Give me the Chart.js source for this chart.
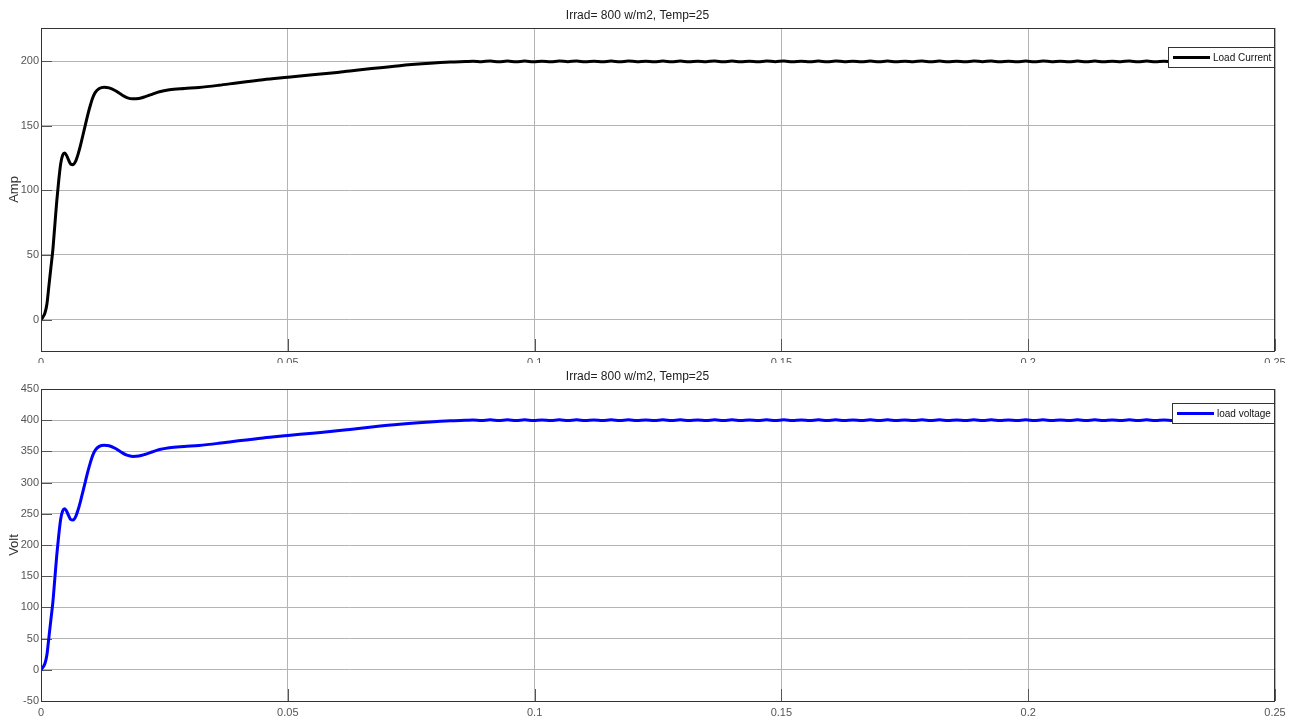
<!DOCTYPE html>
<html>
<head>
<meta charset="utf-8">
<title>Load current and load voltage</title>
<script src="https://cdn.jsdelivr.net/npm/chart.js@4/dist/chart.umd.min.js"></script>
<style>
  html, body { margin: 0; padding: 0; background: #fff; }
  #wrap { position: relative; width: 1294px; height: 720px; overflow: hidden; background: #fff; }
  #cCur { position: absolute; left: 0; top: 0; }
  #cVolt { position: absolute; left: 0; top: 363px; background: #fff; }
</style>
</head>
<body>
<div id="wrap">
  <canvas id="cCur" width="1294" height="372"></canvas>
  <canvas id="cVolt" width="1294" height="357"></canvas>
</div>
<script>
// ---- simulation output (time in s) ----
const plotTitle = 'Irrad= 800 w/m2, Temp=25';

// start-up transient
const transientTime = [0, 0.0004, 0.0008, 0.0012, 0.0016, 0.002, 0.0024, 0.0028, 0.0032, 0.0036,
  0.004, 0.0044, 0.0048, 0.0052, 0.0056, 0.006, 0.0065, 0.007, 0.0075, 0.008,
  0.0085, 0.009, 0.0095, 0.01, 0.0105, 0.011, 0.0118, 0.0128, 0.0138, 0.015,
  0.0162, 0.0174, 0.0186, 0.0198, 0.021, 0.0225, 0.024, 0.026, 0.029, 0.032,
  0.036, 0.04, 0.045, 0.05, 0.055, 0.06, 0.0626, 0.067, 0.0727, 0.078,
  0.0829, 0.086];

const currentTransient = [0, 2, 5, 12, 26, 40, 54, 73, 92, 108,
  121, 127.5, 129, 127, 123.5, 120.5, 120, 122.5, 128, 135,
  143, 151, 159, 166, 172, 176, 179, 180, 179.5, 177.5,
  174.5, 172, 171, 171.3, 172.5, 174.5, 176.5, 178, 179, 179.8,
  181.5, 183.5, 185.8, 187.7, 189.6, 191.5, 192.6, 194.5, 196.7, 198.3,
  199.5, 199.9];

const voltageTransient = [0, 4, 10, 24, 52, 80, 108, 146, 184, 216,
  242, 255, 258, 254, 247, 241, 240, 245, 256, 270,
  286, 302, 318, 332, 344, 352, 358, 360, 359, 355,
  349, 344, 342, 342.6, 345, 349, 353, 356, 358, 359.6,
  363, 367, 371.6, 375.4, 379.2, 383, 385.2, 389, 393.4, 396.6,
  399, 399.8];

// steady state with switching ripple, sampled every 1.75 ms from 87.5 ms
const steadyStart = 0.0875;
const steadyStep = 0.00175;

const currentSteady = [200.1, 199.8, 200.3, 199.7, 200.3, 199.7, 200.3, 199.7, 200.2, 199.7,
  200.3, 199.8, 200.3, 199.7, 200.2, 199.7, 200.3, 199.7, 200.3, 199.8,
  200.2, 199.7, 200.3, 199.7, 200.3, 199.7, 200.2, 199.8, 200.3, 199.7,
  200.3, 199.7, 200.2, 199.7, 200.3, 199.8, 200.3, 199.7, 200.2, 199.7,
  200.3, 199.7, 200.3, 199.8, 200.2, 199.7, 200.3, 199.7, 200.3, 199.7,
  200.2, 199.8, 200.3, 199.7, 200.3, 199.7, 200.2, 199.7, 200.3, 199.8,
  200.3, 199.7, 200.2, 199.7, 200.3, 199.7, 200.3, 199.8, 200.2, 199.7,
  200.3, 199.7, 200.3, 199.7, 200.2, 199.8, 200.3, 199.7, 200.3, 199.7,
  200.2, 199.7, 200.3, 199.8, 200.3, 199.7, 200.2, 199.7, 200.3, 199.7,
  200.3, 199.8, 200.2, 199.7];

const voltageSteady = [400.2, 399.6, 400.6, 399.4, 400.6, 399.4, 400.6, 399.4, 400.5, 399.4,
  400.6, 399.5, 400.6, 399.4, 400.5, 399.4, 400.6, 399.4, 400.6, 399.5,
  400.5, 399.4, 400.6, 399.4, 400.6, 399.4, 400.5, 399.5, 400.6, 399.4,
  400.6, 399.4, 400.5, 399.4, 400.6, 399.5, 400.6, 399.4, 400.5, 399.4,
  400.6, 399.4, 400.6, 399.5, 400.5, 399.4, 400.6, 399.4, 400.6, 399.4,
  400.5, 399.5, 400.6, 399.4, 400.6, 399.4, 400.5, 399.4, 400.6, 399.5,
  400.6, 399.4, 400.5, 399.4, 400.6, 399.4, 400.6, 399.5, 400.5, 399.4,
  400.6, 399.4, 400.6, 399.4, 400.5, 399.5, 400.6, 399.4, 400.6, 399.4,
  400.5, 399.4, 400.6, 399.5, 400.6, 399.4, 400.5, 399.4, 400.6, 399.4,
  400.6, 399.5, 400.5, 399.4];

// axes
const xTickValues = [0, 0.05, 0.1, 0.15, 0.2, 0.25];
const xTickLabels = ['0', '0.05', '0.1', '0.15', '0.2', '0.25'];
const ampTicks = [0, 50, 100, 150, 200];
const voltTicks = [-50, 0, 50, 100, 150, 200, 250, 300, 350, 400, 450];

// ---- helpers ----
function series(transient, steady) {
  const pts = transientTime.map((t, i) => ({ x: t, y: transient[i] }));
  steady.forEach((v, i) => {
    const t = steadyStart + i * steadyStep;
    if (t <= 0.25 + 1e-9) pts.push({ x: t, y: v });
  });
  return pts;
}

const FONT = "'Liberation Sans', Arial, Helvetica, sans-serif";

// frame, inner tick marks and in-axes legend, MATLAB scope style
const scopeFrame = {
  id: 'scopeFrame',
  beforeDatasetsDraw(chart) {
    const { ctx, chartArea: a, scales } = chart;
    ctx.save();
    ctx.strokeStyle = '#555';
    ctx.lineWidth = 1;
    ctx.beginPath();
    scales.y.ticks.forEach(t => {
      const y = Math.round(scales.y.getPixelForValue(t.value)) + 0.5;
      ctx.moveTo(a.left, y); ctx.lineTo(a.left + 11, y);
    });
    scales.x.ticks.forEach(t => {
      const x = Math.round(scales.x.getPixelForValue(t.value)) + 0.5;
      ctx.moveTo(x, a.bottom); ctx.lineTo(x, a.bottom - 12);
    });
    ctx.stroke();
    ctx.restore();
  },
  afterDraw(chart, args, opts) {
    const { ctx, chartArea: a } = chart;
    ctx.save();
    ctx.strokeStyle = '#333';
    ctx.lineWidth = 1;
    ctx.strokeRect(Math.round(a.left) + 0.5, Math.round(a.top) + 0.5,
      Math.round(a.right - a.left) - 1, Math.round(a.bottom - a.top));

    // legend box
    const ds = chart.data.datasets[0];
    ctx.font = '10px ' + FONT;
    const tw = ctx.measureText(ds.label).width;
    const sample = 37;
    const w = Math.round(5 + sample + 4 + tw + 3);
    const h = 20;
    const left = Math.round(a.right) - w;
    const top = Math.round(a.top + opts.offsetTop);
    ctx.fillStyle = '#fff';
    ctx.fillRect(left, top, w, h);
    ctx.strokeStyle = '#333';
    ctx.strokeRect(left + 0.5, top + 0.5, w - 1, h);
    ctx.strokeStyle = ds.borderColor;
    ctx.lineWidth = 3;
    ctx.beginPath();
    ctx.moveTo(left + 5, top + h / 2 + 0.5);
    ctx.lineTo(left + 5 + sample, top + h / 2 + 0.5);
    ctx.stroke();
    ctx.fillStyle = '#111';
    ctx.textBaseline = 'middle';
    ctx.textAlign = 'left';
    ctx.fillText(ds.label, left + 5 + sample + 3, top + h / 2 + 1);
    ctx.restore();
  }
};

function makeChart(canvasId, cfg) {
  return new Chart(document.getElementById(canvasId), {
    type: 'line',
    data: {
      datasets: [{
        label: cfg.label,
        data: cfg.data,
        borderColor: cfg.color,
        borderWidth: 3,
        pointRadius: 0,
        cubicInterpolationMode: 'monotone',
        fill: false
      }]
    },
    options: {
      responsive: false,
      animation: false,
      events: [],
      layout: { padding: { left: 0, right: 19, top: 0, bottom: 0 } },
      plugins: {
        legend: { display: false },
        tooltip: { enabled: false },
        title: {
          display: true,
          text: plotTitle,
          color: '#222',
          font: { family: FONT, size: 12, lineHeight: 1.25, weight: 'normal' },
          padding: cfg.titlePad
        },
        scopeFrame: { offsetTop: cfg.legendTop }
      },
      scales: {
        x: {
          type: 'linear',
          min: 0,
          max: 0.25,
          afterBuildTicks: s => { s.ticks = xTickValues.map(v => ({ value: v })); },
          afterFit: s => { s.height = cfg.xAxisHeight; },
          grid: { color: '#b4b4b4', lineWidth: 1, drawTicks: false },
          border: { display: false },
          ticks: {
            color: '#555',
            font: { family: FONT, size: 11 },
            padding: 5,
            maxRotation: 0,
            autoSkip: false,
            callback: v => xTickLabels[xTickValues.indexOf(v)] ?? ''
          }
        },
        y: {
          type: 'linear',
          min: cfg.yMin,
          max: cfg.yMax,
          afterBuildTicks: s => { s.ticks = cfg.yTicks.map(v => ({ value: v })); },
          afterFit: s => { s.width = 41; },
          grid: { color: '#b4b4b4', lineWidth: 1, drawTicks: false },
          border: { display: false },
          title: {
            display: true,
            text: cfg.yTitle,
            color: '#333',
            font: { family: FONT, size: 13 },
            padding: { top: 7, bottom: 0 }
          },
          ticks: {
            color: '#555',
            font: { family: FONT, size: 11 },
            padding: 2,
            autoSkip: false,
            callback: v => String(v)
          }
        }
      }
    },
    plugins: [scopeFrame]
  });
}

makeChart('cCur', {
  label: 'Load Current',
  data: series(currentTransient, currentSteady),
  color: '#000000',
  yMin: -24.4, yMax: 225.9,
  yTicks: ampTicks,
  yTitle: 'Amp',
  titlePad: { top: 8, bottom: 5 },
  xAxisHeight: 21,
  legendTop: 19
});

makeChart('cVolt', {
  label: 'load voltage',
  data: series(voltageTransient, voltageSteady),
  color: '#0000ff',
  yMin: -50, yMax: 450,
  yTicks: voltTicks,
  yTitle: 'Volt',
  titlePad: { top: 6, bottom: 5 },
  xAxisHeight: 19,
  legendTop: 14
});
</script>
</body>
</html>
